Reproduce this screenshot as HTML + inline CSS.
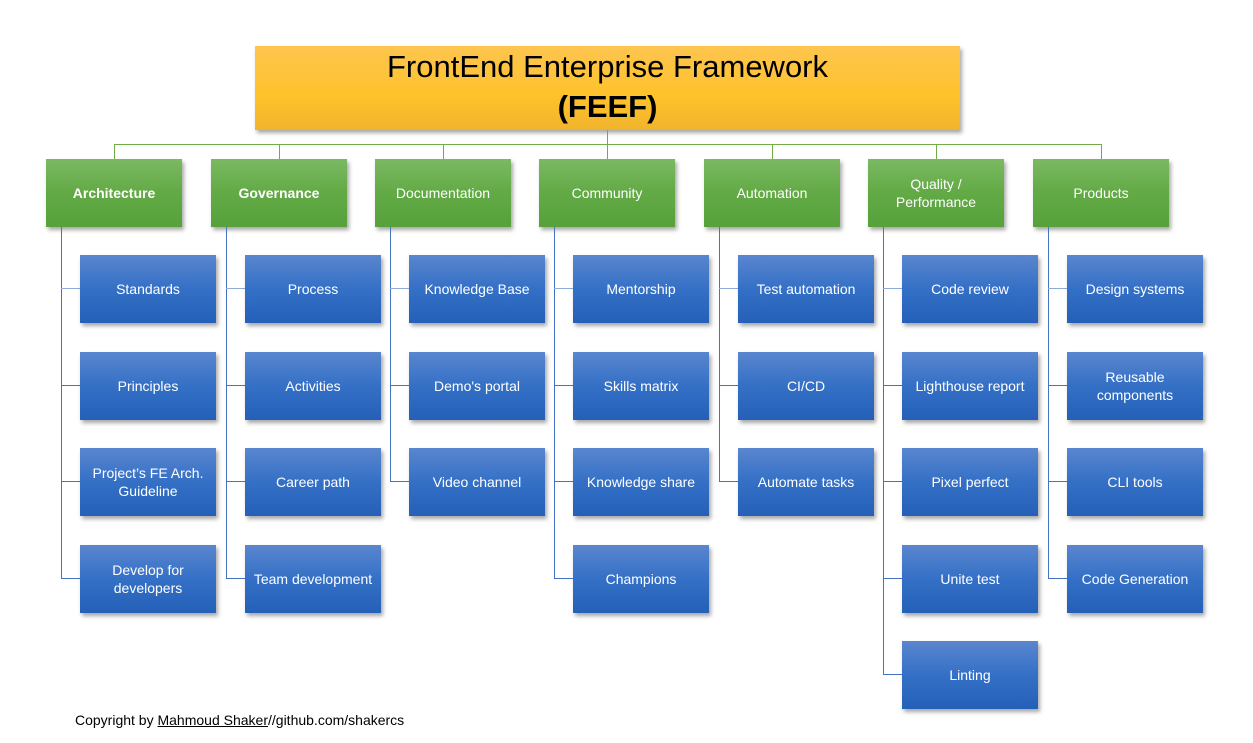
<!DOCTYPE html>
<html><head><meta charset="utf-8"><style>
body{margin:0;width:1253px;height:743px;background:#fff;position:relative;overflow:hidden;font-family:"Liberation Sans",sans-serif}
.a{position:absolute}
.t{left:255px;top:46px;width:705px;height:84px;background:linear-gradient(#fdc54f,#fec22b 60%,#f1b42c);box-shadow:2px 3px 4px rgba(0,0,0,.35);text-align:center;color:#000;font-size:31px;line-height:40px;padding-top:1px;box-sizing:border-box}
.g{width:136px;height:68px;background:linear-gradient(#7bb963,#62aa45 50%,#56a13b);box-shadow:2px 3px 4px rgba(0,0,0,.35);color:#fff;font-size:14px;display:flex;align-items:center;justify-content:center;text-align:center;line-height:18px}
.b{width:136px;height:68px;background:linear-gradient(#5a86cf,#3470c6 50%,#2560b8);box-shadow:2px 3px 4px rgba(0,0,0,.35);color:#fff;font-size:14px;display:flex;align-items:center;justify-content:center;text-align:center;line-height:18px}
.gl{background:#70ad47}
.bl{background:#4472c4}
.hl{background:#8eaadb}
</style></head><body>
<div class="a t">FrontEnd Enterprise Framework<br><b>(FEEF)</b></div>
<div class="a gl" style="left:607px;top:130px;width:1px;height:14px"></div>
<div class="a gl" style="left:114px;top:144px;width:988px;height:1px"></div>
<div id="c"></div>
<div class="a" style="left:75px;top:712px;font-size:14px;color:#000">Copyright by <u>Mahmoud Shaker</u>//github.com/shakercs</div>
<script>
var cols=[46,211,375,539,704,868,1033];
var heads=["<b>Architecture</b>","<b>Governance</b>","Documentation","Community","Automation","Quality /<br>Performance","Products"];
var items=[["Standards","Principles","Project’s FE Arch.<br>Guideline","Develop for<br>developers"],["Process","Activities","Career path","Team development"],["Knowledge Base","Demo's portal","Video channel"],["Mentorship","Skills matrix","Knowledge share","Champions"],["Test automation","CI/CD","Automate tasks"],["Code review","Lighthouse report","Pixel perfect","Unite test","Linting"],["Design systems","Reusable<br>components","CLI tools","Code Generation"]];
var rows=[255,352,448,545,641];var h="";
cols.forEach(function(x,i){
h+='<div class="a gl" style="left:'+(x+68)+'px;top:144px;width:1px;height:15px"></div>';
h+='<div class="a g" style="left:'+x+'px;top:159px">'+heads[i]+'</div>';
var n=items[i].length;
h+='<div class="a bl" style="left:'+(x+15)+'px;top:227px;width:1px;height:'+(rows[n-1]+34-227)+'px"></div>';
items[i].forEach(function(t,j){
var y=rows[j];
h+='<div class="a '+(j==0?'hl':'bl')+'" style="left:'+(x+15)+'px;top:'+(y+33)+'px;width:19px;height:1px"></div>';
h+='<div class="a b" style="left:'+(x+34)+'px;top:'+y+'px">'+t+'</div>';
});
});
document.getElementById("c").innerHTML=h;
</script>
</body></html>
